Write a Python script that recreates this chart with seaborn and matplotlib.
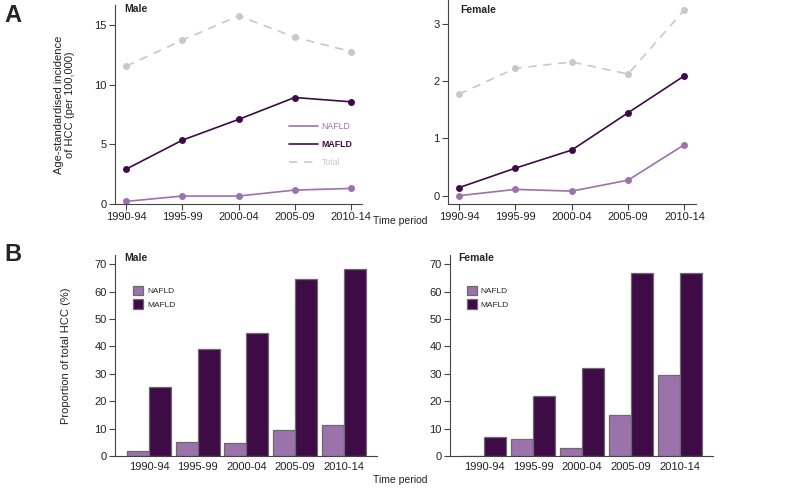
import pandas as pd
import matplotlib
matplotlib.use("Agg")
import matplotlib.pyplot as plt
import seaborn as sns
from matplotlib.lines import Line2D

periods = ["1990-94", "1995-99", "2000-04", "2005-09", "2010-14"]

# panel A: age-standardised incidence per 100,000
male_nafld = [0.22, 0.67, 0.67, 1.17, 1.31]
male_mafld = [2.93, 5.36, 7.1, 8.94, 8.58]
male_total = [11.57, 13.75, 15.8, 14.0, 12.8]
female_nafld = [0.0, 0.11, 0.08, 0.27, 0.89]
female_mafld = [0.14, 0.48, 0.795, 1.445, 2.09]
female_total = [1.77, 2.22, 2.33, 2.12, 3.24]

# panel B: proportion of total HCC (%)
male_nafld_pct = [1.8, 5.0, 4.6, 9.5, 11.3]
male_mafld_pct = [25.2, 38.9, 44.8, 64.5, 68.4]
female_nafld_pct = [0.0, 6.1, 2.8, 15.1, 29.6]
female_mafld_pct = [6.9, 21.8, 32.2, 66.7, 66.7]

c_nafld = "#9b72ab"
c_mafld = "#3e0b47"
c_total = "#c8c8c8"

sns.set_style("ticks")
plt.rcParams["font.family"] = ["Liberation Sans", "DejaVu Sans"]
plt.rcParams["axes.edgecolor"] = "#444444"
plt.rcParams["axes.linewidth"] = 0.8
plt.rcParams["xtick.color"] = "#444444"
plt.rcParams["ytick.color"] = "#444444"
plt.rcParams["xtick.labelcolor"] = "#222222"
plt.rcParams["ytick.labelcolor"] = "#222222"
plt.rcParams["xtick.labelsize"] = 8
plt.rcParams["ytick.labelsize"] = 8

fig = plt.figure(figsize=(7.87, 4.94), dpi=100)
ax1 = fig.add_axes([0.1461, 0.587, 0.3139, 0.4028])
ax2 = fig.add_axes([0.5689, 0.587, 0.3151, 0.413])
ax3 = fig.add_axes([0.1461, 0.0769, 0.3326, 0.4069])
ax4 = fig.add_axes([0.5718, 0.0769, 0.3346, 0.4069])

palette = {"NAFLD": c_nafld, "MAFLD": c_mafld, "Total": c_total}
dashes = {"NAFLD": "", "MAFLD": "", "Total": (5, 4)}


def line_df(nafld, mafld, total):
    return pd.DataFrame({
        "Period": periods * 3,
        "Group": ["NAFLD"] * 5 + ["MAFLD"] * 5 + ["Total"] * 5,
        "Value": nafld + mafld + total,
    })


def draw_lines(ax, df, ylim, yticks, title, tx, ty):
    sns.lineplot(data=df, x="Period", y="Value", hue="Group", style="Group",
                 palette=palette, dashes=dashes, markers={"NAFLD": "o", "MAFLD": "o", "Total": "o"},
                 markersize=5, markeredgewidth=0, linewidth=1.2, legend=False, ax=ax)
    ax.set_xlim(-0.2, 4.2)
    ax.set_ylim(*ylim)
    ax.set_yticks(yticks)
    ax.set_xlabel("")
    ax.set_ylabel("")
    ax.tick_params(length=4, width=0.8, pad=2)
    sns.despine(ax=ax)
    ax.text(tx, ty, title, transform=ax.transAxes, fontsize=7.5, fontweight="bold",
            va="center", ha="left")


draw_lines(ax1, line_df(male_nafld, male_mafld, male_total), (0, 16.7), [0, 5, 10, 15],
           "Male", 0.036, 0.98)
draw_lines(ax2, line_df(female_nafld, female_mafld, female_total), (-0.145, 3.41), [0, 1, 2, 3],
           "Female", 0.05, 0.951)

ax1.set_ylabel("Age-standardised incidence\nof HCC (per 100,000)", fontsize=8, color="#222222")
ax1.yaxis.set_label_coords(-0.16, 0.5)

handles = [Line2D([], [], color=c_nafld, lw=1.2),
           Line2D([], [], color=c_mafld, lw=1.2),
           Line2D([], [], color=c_total, lw=1.2, dashes=(5, 4))]
leg = ax1.legend(handles, ["NAFLD", "MAFLD", "Total"], loc="center left",
                 bbox_to_anchor=(0.705, 0.30), frameon=False, fontsize=6.3,
                 handlelength=3.3, handletextpad=0.4, labelspacing=1.05,
                 labelcolor="linecolor", borderpad=0, borderaxespad=0)
leg.get_texts()[1].set_fontweight("bold")


def bar_df(nafld, mafld):
    return pd.DataFrame({
        "Period": periods * 2,
        "Group": ["NAFLD"] * 5 + ["MAFLD"] * 5,
        "Value": nafld + mafld,
    })


def draw_bars(ax, df, title, tx, lx):
    sns.barplot(data=df, x="Period", y="Value", hue="Group",
                palette={"NAFLD": c_nafld, "MAFLD": c_mafld}, width=0.9,
                edgecolor="#6b6b6b", linewidth=0.9, saturation=1, ax=ax)
    ax.set_xlim(-0.7, 4.68)
    ax.set_ylim(0, 73.4)
    ax.set_yticks(range(0, 71, 10))
    ax.set_xlabel("")
    ax.set_ylabel("")
    ax.tick_params(axis="y", length=4, width=0.8, pad=2)
    ax.tick_params(axis="x", length=0, pad=4)
    sns.despine(ax=ax)
    ax.text(tx, 0.985, title, transform=ax.transAxes, fontsize=7.5, fontweight="bold",
            va="center", ha="left")
    ax.legend(loc="center left", bbox_to_anchor=(lx, 0.79), frameon=False, fontsize=6,
              handlelength=1.2, handleheight=1.4, handletextpad=0.5, labelspacing=0.45,
              borderpad=0, borderaxespad=0, title=None)


draw_bars(ax3, bar_df(male_nafld_pct, male_mafld_pct), "Male", 0.034, 0.069)
draw_bars(ax4, bar_df(female_nafld_pct, female_mafld_pct), "Female", 0.03, 0.063)

ax3.set_ylabel("Proportion of total HCC (%)", fontsize=8, color="#222222")
ax3.yaxis.set_label_coords(-0.168, 0.5)

fig.text(0.508, 0.553, "Time period", ha="center", va="center", fontsize=7.5, color="#222222")
fig.text(0.508, 0.028, "Time period", ha="center", va="center", fontsize=7.5, color="#222222")
fig.text(0.006, 0.968, "A", ha="left", va="center", fontsize=17, fontweight="bold")
fig.text(0.006, 0.484, "B", ha="left", va="center", fontsize=17, fontweight="bold")

fig.savefig("out.png", dpi=100)
